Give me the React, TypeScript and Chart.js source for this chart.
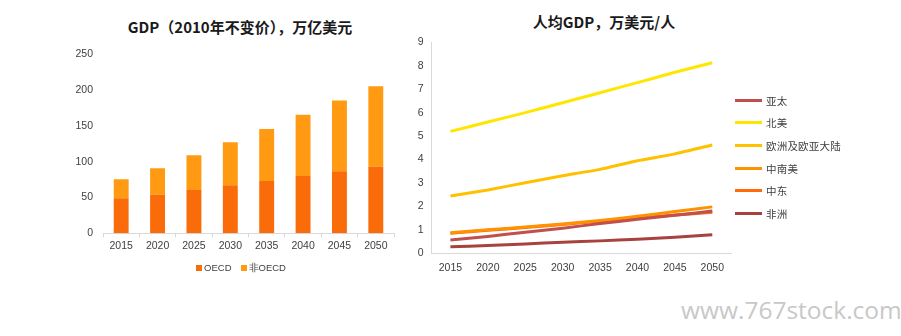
import React, { useEffect, useRef } from "react";
import { Chart, registerables } from "chart.js";
Chart.register(...registerables);

const years = ["2015", "2020", "2025", "2030", "2035", "2040", "2045", "2050"];
const gdpTicks = [0, 50, 100, 150, 200, 250];
const oecd = [49, 54, 60.5, 67, 73, 80, 86.5, 93];
const nonOecd = [26.5, 37, 48.5, 60, 72.5, 85.5, 99, 112.5];

const perCapitaTicks = [0, 1, 2, 3, 4, 5, 6, 7, 8, 9];
const asiaPacific = [0.57, 0.72, 0.9, 1.07, 1.27, 1.45, 1.62, 1.8];
const northAmerica = [5.2, 5.6, 6.0, 6.42, 6.85, 7.28, 7.72, 8.13];
const europeEurasia = [2.44, 2.7, 3.01, 3.31, 3.58, 3.95, 4.24, 4.62];
const latinAmerica = [0.88, 1.0, 1.12, 1.25, 1.4, 1.58, 1.78, 1.98];
const middleEast = [0.85, 0.98, 1.1, 1.23, 1.37, 1.5, 1.63, 1.75];
const africa = [0.28, 0.33, 0.4, 0.47, 0.53, 0.6, 0.68, 0.79];

const lineSeries = [
  { label: "亚太", data: asiaPacific, color: "#C0504D" },
  { label: "北美", data: northAmerica, color: "#FFE600" },
  { label: "欧洲及欧亚大陆", data: europeEurasia, color: "#FFC000" },
  { label: "中南美", data: latinAmerica, color: "#FF9200" },
  { label: "中东", data: middleEast, color: "#FF6A0A" },
  { label: "非洲", data: africa, color: "#A8423F" },
];

const OECD_COLOR = "#FA6C0A";
const NON_OECD_COLOR = "#FF9A12";
const TICK_FONT = "'Liberation Sans Narrow', 'Liberation Sans', Arial, sans-serif";
const CJK = "'Noto Sans CJK SC', 'Noto Sans', sans-serif";

export default function App() {
  const barRef = useRef<HTMLCanvasElement | null>(null);
  const lineRef = useRef<HTMLCanvasElement | null>(null);

  useEffect(() => {
    const barChart = new Chart(barRef.current!, {
      type: "bar",
      data: {
        labels: years,
        datasets: [
          { label: "OECD", data: oecd, backgroundColor: OECD_COLOR, borderWidth: 0, barPercentage: 0.41, categoryPercentage: 1 },
          { label: "非OECD", data: nonOecd, backgroundColor: NON_OECD_COLOR, borderWidth: 0, barPercentage: 0.41, categoryPercentage: 1 },
        ],
      },
      options: {
        animation: false,
        responsive: false,
        maintainAspectRatio: false,
        layout: { padding: { top: 54.3, right: 6, left: 0, bottom: 0 } },
        plugins: { legend: { display: false }, tooltip: { enabled: false }, title: { display: false } },
        scales: {
          x: {
            stacked: true,
            grid: { display: true, drawOnChartArea: false, drawTicks: true, tickLength: 4, color: "#d9d9d9", offset: true },
            border: { display: true, color: "#d9d9d9" },
            ticks: { color: "#404040", font: { family: TICK_FONT, size: 10.5 }, padding: 3, maxRotation: 0 },
            afterFit: (s: any) => { s.height = 56.7; },
          },
          y: {
            stacked: true,
            min: 0,
            max: 250,
            afterBuildTicks: (s: any) => { s.ticks = gdpTicks.map((v) => ({ value: v })); },
            grid: { display: false, drawTicks: false },
            border: { display: false },
            ticks: { color: "#404040", font: { family: TICK_FONT, size: 10.5 }, padding: 10 },
            afterFit: (s: any) => { s.width = 103; },
          },
        },
      },
    });

    const lineChart = new Chart(lineRef.current!, {
      type: "line",
      data: {
        labels: years,
        datasets: lineSeries.map((s) => ({
          label: s.label,
          data: s.data,
          borderColor: s.color,
          backgroundColor: s.color,
          borderWidth: 3,
          pointRadius: 0,
          tension: 0.15,
          fill: false,
        })),
      },
      options: {
        animation: false,
        responsive: false,
        maintainAspectRatio: false,
        layout: { padding: { top: 42.3, right: 9, left: 0, bottom: 0 } },
        plugins: { legend: { display: false }, tooltip: { enabled: false }, title: { display: false } },
        scales: {
          x: {
            offset: true,
            grid: { display: true, drawOnChartArea: false, drawTicks: false, color: "#d9d9d9" },
            border: { display: true, color: "#d9d9d9" },
            ticks: { color: "#404040", font: { family: TICK_FONT, size: 10.5 }, padding: 9, maxRotation: 0 },
            afterFit: (s: any) => { s.height = 36.7; },
          },
          y: {
            min: 0,
            max: 9,
            afterBuildTicks: (s: any) => { s.ticks = perCapitaTicks.map((v) => ({ value: v })); },
            grid: { display: true, drawOnChartArea: false, drawTicks: false, color: "#d9d9d9" },
            border: { display: true, color: "#d9d9d9" },
            ticks: { color: "#404040", font: { family: TICK_FONT, size: 10.5 }, padding: 8 },
            afterFit: (s: any) => { s.width = 31.7; },
          },
        },
      },
    });

    return () => {
      barChart.destroy();
      lineChart.destroy();
    };
  }, []);

  const abs = (style: React.CSSProperties): React.CSSProperties => ({ position: "absolute", ...style });

  return (
    <div style={{ position: "absolute", left: 0, top: 0, width: 901, height: 336, background: "#fff", overflow: "hidden" }}>
      <div style={abs({ left: 40, width: 400, top: 17, textAlign: "center", fontFamily: CJK, fontWeight: 700, fontSize: 15, lineHeight: "20px", color: "#1a1a1a", whiteSpace: "nowrap" })}>
        GDP（2010年不变价），万亿美元
      </div>
      <canvas ref={barRef} width={400} height={290} style={abs({ left: 0, top: 0, width: 400, height: 290 })} />
      <div style={abs({ left: 0, width: 482, top: 261, textAlign: "center", fontFamily: TICK_FONT, fontSize: 9.5, lineHeight: "14px", color: "#404040", whiteSpace: "nowrap" })}>
        <span style={{ display: "inline-block", width: 6, height: 6, background: OECD_COLOR, marginRight: 2, verticalAlign: "middle" }} />
        <span style={{ verticalAlign: "middle", marginRight: 9 }}>OECD</span>
        <span style={{ display: "inline-block", width: 6, height: 6, background: NON_OECD_COLOR, marginRight: 2, verticalAlign: "middle" }} />
        <span style={{ verticalAlign: "middle" }}>非OECD</span>
      </div>

      <div style={abs({ left: 404, width: 400, top: 12, textAlign: "center", fontFamily: CJK, fontWeight: 700, fontSize: 15, lineHeight: "20px", color: "#1a1a1a", whiteSpace: "nowrap" })}>
        人均GDP，万美元/人
      </div>
      <canvas ref={lineRef} width={340} height={290} style={abs({ left: 400, top: 0, width: 340, height: 290 })} />
      {lineSeries.map((s, i) => (
        <div key={s.label} style={abs({ left: 735, top: 100 + i * 22.7 - 8, height: 16, display: "flex", alignItems: "center", whiteSpace: "nowrap" })}>
          <span style={{ display: "inline-block", width: 27, height: 3, background: s.color, marginRight: 4 }} />
          <span style={{ fontFamily: CJK, fontSize: 10.5, color: "#404040", letterSpacing: 0.2 }}>{s.label}</span>
        </div>
      ))}

      <div style={abs({ left: 681, top: 298, fontFamily: "'Open Sans', sans-serif", fontSize: 24.5, lineHeight: 1, color: "#c8c8c8", whiteSpace: "nowrap" })}>
        www.767stock.com
      </div>
    </div>
  );
}
